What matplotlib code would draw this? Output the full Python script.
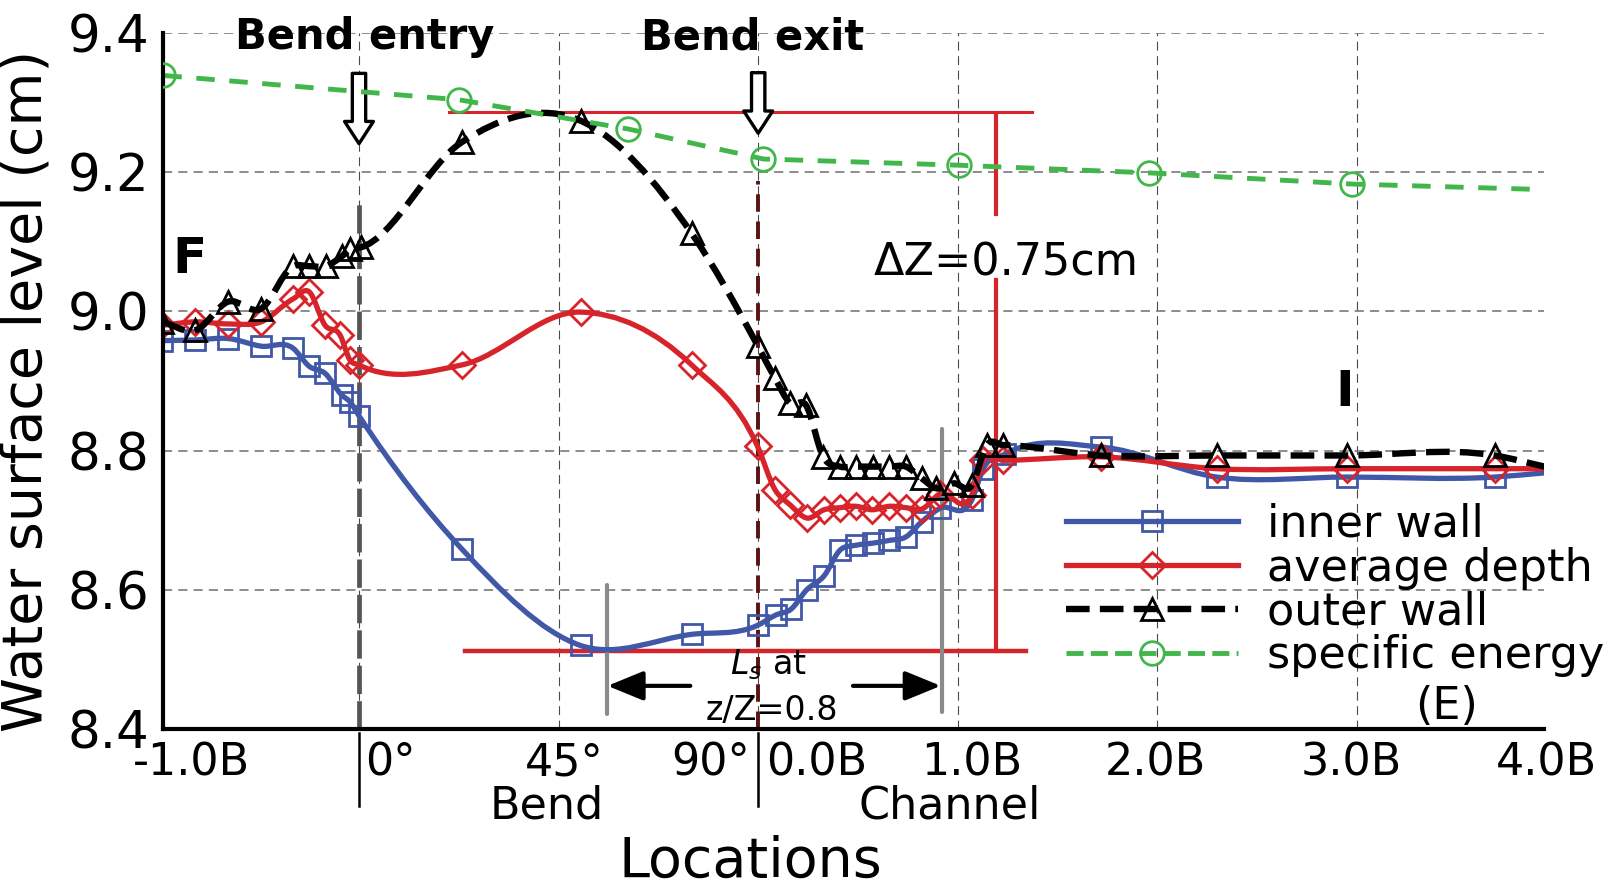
import numpy as np
import matplotlib
matplotlib.use('Agg')
import matplotlib.pyplot as plt
import matplotlib.transforms as mtransforms
from matplotlib.path import Path
from matplotlib.patches import PathPatch
from matplotlib.lines import Line2D

# x position: one unit per grid cell
# -1..0 upstream, 0..2 bend (0..90 deg), 2..6 straight channel (0.0B..4.0B)
inner_x = [-0.985, -0.82, -0.655, -0.49, -0.33, -0.249, -0.17, -0.087, -0.045, 0.0,
           0.514, 1.11, 1.667, 1.997, 2.09, 2.164, 2.243, 2.33, 2.41, 2.49, 2.573,
           2.657, 2.74, 2.82, 2.91, 3.07, 3.128, 3.237, 3.72, 4.297, 4.95, 5.69, 5.94]
inner_y = [8.958, 8.959, 8.961, 8.95, 8.947, 8.921, 8.911, 8.88, 8.87, 8.85,
           8.659, 8.52, 8.536, 8.549, 8.564, 8.572, 8.60, 8.62, 8.657, 8.664, 8.667,
           8.671, 8.676, 8.698, 8.717, 8.729, 8.774, 8.795, 8.805, 8.762, 8.762, 8.762, 8.768]

avg_x = [-0.985, -0.82, -0.655, -0.49, -0.33, -0.249, -0.17, -0.095, -0.045, 0.0,
         0.514, 1.11, 1.667, 1.997, 2.084, 2.16, 2.246, 2.33, 2.41, 2.49, 2.57,
         2.657, 2.74, 2.82, 2.91, 3.07, 3.128, 3.226, 3.72, 4.297, 4.95, 5.69, 5.94]
avg_y = [8.98, 8.985, 8.982, 8.985, 9.018, 9.028, 8.98, 8.966, 8.93, 8.923,
         8.923, 8.999, 8.923, 8.806, 8.744, 8.722, 8.703, 8.715, 8.718, 8.72, 8.715,
         8.72, 8.718, 8.716, 8.738, 8.736, 8.786, 8.786, 8.791, 8.774, 8.774, 8.774, 8.774]

outer_x = [-0.985, -0.82, -0.655, -0.49, -0.33, -0.249, -0.165, -0.087, -0.045, 0.008,
           0.514, 1.11, 1.667, 1.997, 2.084, 2.16, 2.24, 2.326, 2.41, 2.49, 2.573,
           2.657, 2.74, 2.82, 2.89, 2.98, 3.07, 3.145, 3.226, 3.72, 4.297, 4.95, 5.69, 5.94]
outer_y = [8.985, 8.973, 9.014, 9.004, 9.065, 9.065, 9.065, 9.079, 9.089, 9.092,
           9.243, 9.274, 9.112, 8.951, 8.904, 8.868, 8.865, 8.791, 8.777, 8.777, 8.777,
           8.777, 8.777, 8.76, 8.746, 8.753, 8.75, 8.808, 8.808, 8.793, 8.793, 8.793, 8.793, 8.777]

energy_x = [-0.98, 0.503, 1.35, 2.026, 3.008, 3.96, 4.973, 5.94]
energy_y = [9.339, 9.304, 9.262, 9.219, 9.21, 9.199, 9.183, 9.175]

yticks = [8.4, 8.6, 8.8, 9.0, 9.2, 9.4]
xlabels = ['-1.0B', '0°', '45°', '90°', '0.0B', '1.0B', '2.0B', '3.0B', '4.0B']
xlabel_pos = [-0.84, 0.03, 1.03, 1.96, 2.04, 3.07, 3.99, 4.97, 5.95]
xlabel_ha = ['center', 'left', 'center', 'right', 'left', 'center', 'center', 'center', 'center']

BLUE = '#4157a7'
RED = '#d7232a'
GREEN = '#41b64a'


def smooth_path(x, y):
    # cubic Hermite segments written as Bezier curves (smoothed line)
    x = np.asarray(x, float)
    y = np.asarray(y, float)
    h = np.diff(x)
    s = np.diff(y) / h
    m = np.empty_like(y)
    m[0], m[-1] = s[0], s[-1]
    m[1:-1] = (s[:-1] * h[1:] + s[1:] * h[:-1]) / (h[:-1] + h[1:])
    verts = [(x[0], y[0])]
    codes = [Path.MOVETO]
    for i in range(len(x) - 1):
        verts += [(x[i] + h[i] / 3, y[i] + m[i] * h[i] / 3),
                  (x[i + 1] - h[i] / 3, y[i + 1] - m[i + 1] * h[i] / 3),
                  (x[i + 1], y[i + 1])]
        codes += [Path.CURVE4] * 3
    return Path(verts, codes)


fig = plt.figure(figsize=(16.19, 8.88), dpi=100)
ax = fig.add_axes([163 / 1619, 1 - 729 / 888, 1381 / 1619, 696 / 888])
ax.set_xlim(-0.982, 5.937)
ax.set_ylim(8.4, 9.4)

# grid
ax.set_xticks([0, 1, 2, 3, 4, 5])
ax.set_xticklabels([])
ax.set_yticks(yticks)
ax.set_yticklabels(['%.1f' % v for v in yticks])
ax.tick_params(axis='x', length=0)
ax.tick_params(axis='y', length=0, labelsize=37, pad=10)
ax.grid(axis='y', color='#6d6d6d', lw=1.1, linestyle=(0, (6, 4)))
ax.grid(axis='x', color='#4a4a4a', lw=0.8, linestyle=(0, (8, 5)))
ax.set_axisbelow(True)
for side in ['top', 'right']:
    ax.spines[side].set_visible(False)
for side in ['left', 'bottom']:
    ax.spines[side].set_linewidth(3)
    ax.spines[side].set_zorder(6)

# bend entry / exit markers
ax.plot([0, 0], [8.4, 9.155], color='#555555', lw=3.4, linestyle=(0, (6, 1.5)), zorder=2)
ax.plot([2, 2], [8.4, 9.188], color='#5a1212', lw=2.8, linestyle=(0, (4.5, 2.5)), zorder=2)

# series: (x, y, colour, lw, linestyle, marker, size, label, smoothed)
series = [
    (inner_x, inner_y, BLUE, 3.8, 'solid', 's', 15, 'inner wall', True),
    (avg_x, avg_y, RED, 3.8, 'solid', 'D', 13, 'average depth', True),
    (outer_x, outer_y, 'black', 4.6, (0, (3.7, 1.6)), '^', 16, 'outer wall', True),
    (energy_x, energy_y, GREEN, 3.5, (0, (3.8, 3.0)), 'o', 17, 'specific energy', False),
]
handles = []
for i, (xs, ys, col, lw, ls, mk, ms, lab, smooth) in enumerate(series):
    if smooth:
        ax.add_patch(PathPatch(smooth_path(xs, ys), fc='none', ec=col, lw=lw,
                               linestyle=ls, capstyle='butt', zorder=3 + i))
    else:
        ax.plot(xs, ys, color=col, lw=lw, linestyle=ls, zorder=3 + i)
    ax.plot(xs[:-1], ys[:-1], linestyle='none', marker=mk, ms=ms, mfc='none',
            mec=col, mew=2.0, zorder=3.5 + i)
    handles.append(Line2D([], [], color=col, lw=lw, linestyle=ls if i < 3 else (0, (3.5, 1.5)),
                          marker=mk, ms=ms, mfc='none', mec=col, mew=2.0))

ax.legend(handles, [s[7] for s in series], loc='upper left',
          bbox_to_anchor=(0.654, 0.325), frameon=False, fontsize=32,
          handlelength=3.87, handletextpad=0.65, labelspacing=0.02,
          borderpad=0, borderaxespad=0)
ax.text(5.45, 8.433, '(E)', fontsize=32, ha='center', va='center')

# delta Z bracket
ax.plot([0.45, 3.37], [9.287, 9.287], color=RED, lw=2.2, zorder=2.5)
ax.plot([0.53, 3.34], [8.512, 8.512], color=RED, lw=3.2, zorder=2.5)
ax.plot([3.19, 3.19], [9.283, 9.14], color=RED, lw=3, zorder=2.5)
ax.plot([3.19, 3.19], [9.045, 8.512], color=RED, lw=3, zorder=2.5)
ax.text(3.24, 9.07, 'ΔZ=0.75cm', fontsize=32, ha='center', va='center')

# Ls span
ax.plot([1.24, 1.24], [8.607, 8.422], color='#8a8a8a', lw=3, solid_capstyle='round', zorder=2.5)
ax.plot([2.92, 2.92], [8.831, 8.424], color='#8a8a8a', lw=3, solid_capstyle='round', zorder=2.5)
arrow = dict(arrowstyle='-|>,head_length=1.1,head_width=0.45', color='black', lw=3,
             mutation_scale=20, shrinkA=0, shrinkB=0)
ax.annotate('', xy=(1.245, 8.462), xytext=(1.66, 8.462), arrowprops=arrow)
ax.annotate('', xy=(2.915, 8.462), xytext=(2.475, 8.462), arrowprops=arrow)
ax.text(2.05, 8.492, r'$L_s$ at', fontsize=24, ha='center', va='center')
ax.text(2.07, 8.427, 'z/Z=0.8', fontsize=24, ha='center', va='center')

# hollow arrows and titles
hollow = dict(arrowstyle='simple,head_length=1.0,head_width=1.3,tail_width=0.6',
              fc='white', ec='black', lw=2.4, mutation_scale=16, shrinkA=0, shrinkB=0)
ax.annotate('', xy=(0, 9.241), xytext=(0, 9.342), arrowprops=hollow, annotation_clip=False)
ax.annotate('', xy=(2, 9.256), xytext=(2, 9.343), arrowprops=hollow, annotation_clip=False)
ax.text(0.03, 9.394, 'Bend entry', fontsize=30, fontweight='bold', ha='center', va='center')
ax.text(1.97, 9.394, 'Bend exit', fontsize=30, fontweight='bold', ha='center', va='center')
ax.text(-0.85, 9.076, 'F', fontsize=36, fontweight='bold', ha='center', va='center')
ax.text(4.94, 8.884, 'I', fontsize=36, fontweight='bold', ha='center', va='center')

# x labels
trans = mtransforms.blended_transform_factory(ax.transData, ax.transAxes)
for lab, xp, ha in zip(xlabels, xlabel_pos, xlabel_ha):
    ax.text(xp, -0.049, lab, fontsize=32, ha=ha, va='center', transform=trans)
for xp in [0, 2]:
    ax.plot([xp, xp], [-0.006, -0.11], color='black', lw=1.8, transform=trans, clip_on=False)
ax.text(0.94, -0.11, 'Bend', fontsize=32, ha='center', va='center', transform=trans)
ax.text(2.96, -0.11, 'Channel', fontsize=32, ha='center', va='center', transform=trans)
ax.text(1.96, -0.191, 'Locations', fontsize=40, ha='center', va='center', transform=trans)

ax.set_ylabel('Water surface level (cm)', fontsize=40)
ax.yaxis.set_label_coords(-0.079, 0.486)

fig.savefig('out.png', dpi=100)
